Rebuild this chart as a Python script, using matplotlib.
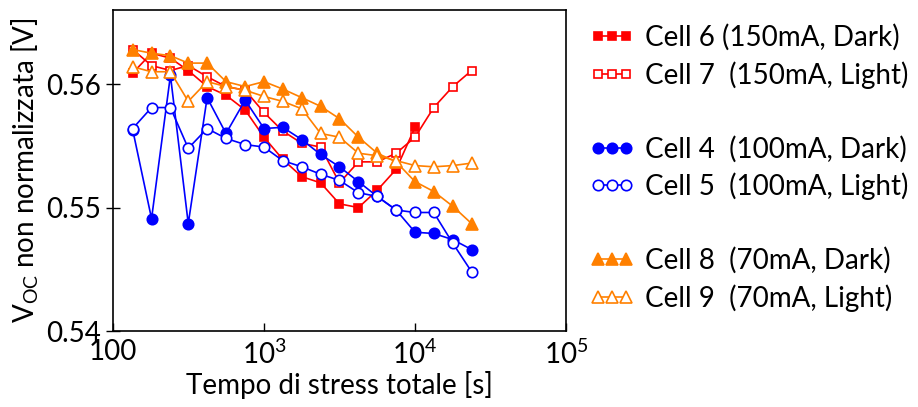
import matplotlib
matplotlib.use('Agg')
import matplotlib.pyplot as plt
from matplotlib.lines import Line2D
from matplotlib.ticker import FixedLocator, FixedFormatter, NullLocator

plt.rcParams['font.family'] = ['Lato', 'DejaVu Sans']
plt.rcParams['mathtext.fontset'] = 'custom'
plt.rcParams['mathtext.rm'] = 'Lato'
plt.rcParams['mathtext.it'] = 'Lato:italic'

# stress time [s]
t = [135, 180, 240, 315, 420, 560, 750, 1000, 1330, 1780, 2370, 3160,
     4220, 5620, 7500, 10000, 13300, 17800, 23700]

cell6 = [0.5609, 0.5625, 0.5621, 0.5611, 0.5598, 0.5591, 0.5579, 0.5557,
         0.5539, 0.5525, 0.5520, 0.5503, 0.5500, 0.5514, 0.5531, 0.5565]
cell7 = [0.5628, 0.5615, 0.5611, 0.5615, 0.5606, 0.5598, 0.5595, 0.5577,
         0.5562, 0.5552, 0.5549, 0.5520, 0.5537, 0.5537, 0.5544, 0.5557,
         0.5581, 0.5598, 0.5611]
cell4 = [0.5563, 0.5491, 0.5607, 0.5487, 0.5589, 0.5560, 0.5587, 0.5564,
         0.5565, 0.5555, 0.5543, 0.5533, 0.5521, 0.5509, 0.5498, 0.5480,
         0.5479, 0.5474, 0.5466]
cell5 = [0.5564, 0.5581, 0.5581, 0.5548, 0.5564, 0.5556, 0.5551, 0.5549,
         0.5538, 0.5533, 0.5527, 0.5522, 0.5512, 0.5509, 0.5498, 0.5496,
         0.5496, 0.5471, 0.5448]
cell8 = [0.5628, 0.5625, 0.5623, 0.5617, 0.5617, 0.5602, 0.5598, 0.5602,
         0.5596, 0.5589, 0.5582, 0.5572, 0.5557, 0.5544, 0.5537, 0.5521,
         0.5513, 0.5501, 0.5487]
cell9 = [0.5614, 0.5610, 0.5610, 0.5586, 0.5602, 0.5598, 0.5595, 0.5590,
         0.5586, 0.5580, 0.5560, 0.5557, 0.5544, 0.5542, 0.5538, 0.5534,
         0.5533, 0.5534, 0.5536]

labels = ['Cell 6 (150mA, Dark)', 'Cell 7  (150mA, Light)',
          'Cell 4  (100mA, Dark)', 'Cell 5  (100mA, Light)',
          'Cell 8  (70mA, Dark)', 'Cell 9  (70mA, Light)']

red = '#ff0000'
blue = '#0000ff'
orange = '#ff8000'

series = [
    (cell6, red, 's', True, 6),
    (cell7, red, 's', False, 6),
    (cell4, blue, 'o', True, 7.5),
    (cell5, blue, 'o', False, 7.5),
    (cell8, orange, '^', True, 8),
    (cell9, orange, '^', False, 8),
]

fig = plt.figure(figsize=(9.18, 4.07), dpi=100)
ax = fig.add_axes([0.1231, 0.1867, 0.4935, 0.7887])

handles = []
for (vals, col, mk, filled, ms), lab in zip(series, labels):
    line, = ax.plot(
        t[:len(vals)], vals,
        color=col, marker=mk, markersize=ms, linewidth=1.2,
        markerfacecolor=col if filled else 'white',
        markeredgecolor=col, markeredgewidth=1.2, label=lab)
    handles.append(line)

ax.set_xscale('log')
ax.set_xlim(100, 1e5)
ax.set_ylim(0.54, 0.566)
ax.xaxis.set_major_locator(FixedLocator([100, 1e3, 1e4, 1e5]))
ax.xaxis.set_major_formatter(FixedFormatter(['100', '$10^3$', '$10^4$', '$10^5$']))
ax.xaxis.set_minor_locator(NullLocator())
ax.set_yticks([0.54, 0.55, 0.56])
ax.set_yticklabels(['0.54', '0.55', '0.56'])
ax.tick_params(axis='x', direction='in', length=6, width=1, labelsize=20, pad=6)
ax.tick_params(axis='y', direction='inout', length=10, width=1, labelsize=20)
for sp in ax.spines.values():
    sp.set_linewidth(1.2)

ax.set_xlabel('Tempo di stress totale [s]', fontsize=20, labelpad=2)
ax.set_ylabel(r'V$_{\mathrm{OC}}$ non normalizzata [V]', fontsize=20, labelpad=4)

blank = Line2D([], [], linestyle='none', marker='none')
leg_handles = [handles[0], handles[1], blank, handles[2], handles[3], blank,
               handles[4], handles[5]]
leg_labels = [labels[0], labels[1], '', labels[2], labels[3], '',
              labels[4], labels[5]]
fig.legend(leg_handles, leg_labels, loc='upper left',
           bbox_to_anchor=(0.630, 0.968), frameon=False, fontsize=20,
           numpoints=3, handlelength=1.6, handletextpad=0.4,
           labelspacing=0.37, borderaxespad=0)

fig.savefig('out.png', dpi=100)
